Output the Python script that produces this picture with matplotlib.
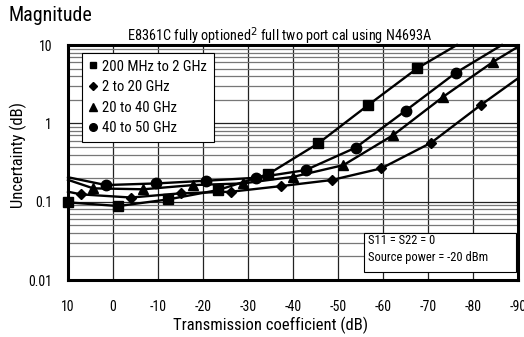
import matplotlib
matplotlib.use('Agg')
import matplotlib.pyplot as plt
from matplotlib.patches import Rectangle
from matplotlib.ticker import FixedLocator, NullFormatter

# Transmission coefficient (dB) and uncertainty (dB)
sq_x = [10, -1.2, -12.3, -23.4, -34.5, -45.6, -56.7, -67.6, -76.4]
sq_y = [0.098, 0.088, 0.107, 0.141, 0.225, 0.555, 1.71, 5.04, 10.0]

dm_x = [10, 7.1, -4.0, -15.1, -26.2, -37.3, -48.6, -59.6, -70.7, -81.7, -90]
dm_y = [0.134, 0.124, 0.113, 0.128, 0.134, 0.158, 0.189, 0.266, 0.566, 1.71, 3.76]

tr_x = [10, 4.4, -6.7, -17.8, -28.8, -40.1, -51.2, -62.3, -73.4, -84.5, -90]
tr_y = [0.190, 0.148, 0.144, 0.163, 0.171, 0.208, 0.293, 0.71, 2.19, 6.12, 9.5]

ci_x = [10, 1.6, -9.6, -20.6, -31.8, -42.8, -53.9, -65.0, -76.2, -86.4]
ci_y = [0.205, 0.163, 0.171, 0.185, 0.202, 0.253, 0.489, 1.45, 4.43, 10.0]

x_ticks = [10, 0, -10, -20, -30, -40, -50, -60, -70, -80, -90]
y_ticks = [0.01, 0.1, 1, 10]
y_ticklabels = ['0.01', '0.1', '1', '10']
labels = ['200 MHz to 2 GHz', '2 to 20 GHz', '20 to 40 GHz', '40 to 50 GHz']

plt.rcParams['font.family'] = ['Roboto Condensed', 'DejaVu Sans']

fig = plt.figure(figsize=(5.24, 3.37), dpi=100)
ax = fig.add_axes([0.1298, 0.1691, 0.8588, 0.6973])

ax.set_yscale('log')
ax.set_xlim(10, -90)
ax.set_ylim(0.01, 10)

# grid: vertical every 10 dB, horizontal log decades + minor
ax.xaxis.set_major_locator(FixedLocator(x_ticks))
ax.yaxis.set_major_locator(FixedLocator(y_ticks))
minor = [m * d for d in (0.01, 0.1, 1) for m in range(2, 10)]
ax.yaxis.set_minor_locator(FixedLocator(minor))
ax.yaxis.set_minor_formatter(NullFormatter())
ax.set_yticklabels(y_ticklabels)
ax.set_xticklabels([str(t) for t in x_ticks])
ax.grid(True, which='major', axis='x', color='#222222', lw=0.9)
ax.grid(True, which='major', axis='y', color='#222222', lw=0.9)
ax.grid(True, which='minor', axis='y', color='#777777', lw=0.9)
ax.tick_params(which='both', length=0)
ax.tick_params(axis='x', pad=14.5, labelsize=10)
ax.tick_params(axis='y', pad=11.5, labelsize=10)
for s in ax.spines.values():
    s.set_linewidth(2.2)
    s.set_zorder(5)

kw = dict(color='black', lw=1.7, clip_on=False, zorder=4)
ax.plot(sq_x, sq_y, marker='s', ms=7, markevery=list(range(len(sq_x) - 1)), **kw)
ax.plot(dm_x, dm_y, marker='D', ms=5, markevery=list(range(1, len(dm_x) - 1)), **kw)
ax.plot(tr_x, tr_y, marker='^', ms=7.5, markevery=list(range(1, len(tr_x) - 1)), **kw)
ax.plot(ci_x, ci_y, marker='o', ms=7.5, markevery=list(range(1, len(ci_x) - 1)), **kw)

# legend with markers only
handles = [
    plt.Line2D([], [], color='black', marker='s', ls='none', ms=5),
    plt.Line2D([], [], color='black', marker='D', ls='none', ms=4),
    plt.Line2D([], [], color='black', marker='^', ls='none', ms=5.5),
    plt.Line2D([], [], color='black', marker='o', ls='none', ms=5.5),
]
leg = ax.legend(handles, labels, loc='upper left', bbox_to_anchor=(0.031, 0.966),
                fontsize=10.5, frameon=True, fancybox=False, handlelength=0.6,
                handletextpad=0.35, labelspacing=0.45, borderpad=0.45,
                borderaxespad=0, framealpha=1, edgecolor='black')
leg.get_frame().set_linewidth(0.8)
leg.set_zorder(6)

# conditions box in the lower right corner
ax.add_patch(Rectangle((0.658, 0.034), 0.338, 0.166, transform=ax.transAxes,
                       fc='white', ec='black', lw=0.8, zorder=6))
ax.text(0.666, 0.170, 'S11 = S22 = 0', transform=ax.transAxes,
        fontsize=9, va='center', ha='left', zorder=7)
ax.text(0.666, 0.095, 'Source power = -20 dBm', transform=ax.transAxes,
        fontsize=9, va='center', ha='left', zorder=7)

ax.set_xlabel('Transmission coefficient (dB)', fontsize=12)
ax.xaxis.set_label_coords(0.449, -0.157)
ax.set_ylabel('Uncertainty (dB)', fontsize=12)
ax.yaxis.set_label_coords(-0.092, 0.532)

fig.text(0.017, 0.953, 'Magnitude', fontsize=14.5, va='center', ha='left')
fig.text(0.534, 0.893, r'E8361C fully optioned$^{2}$ full two port cal using N4693A',
         fontsize=10.3, ha='center', va='center')

plt.savefig('out.png', dpi=100)
plt.close()
